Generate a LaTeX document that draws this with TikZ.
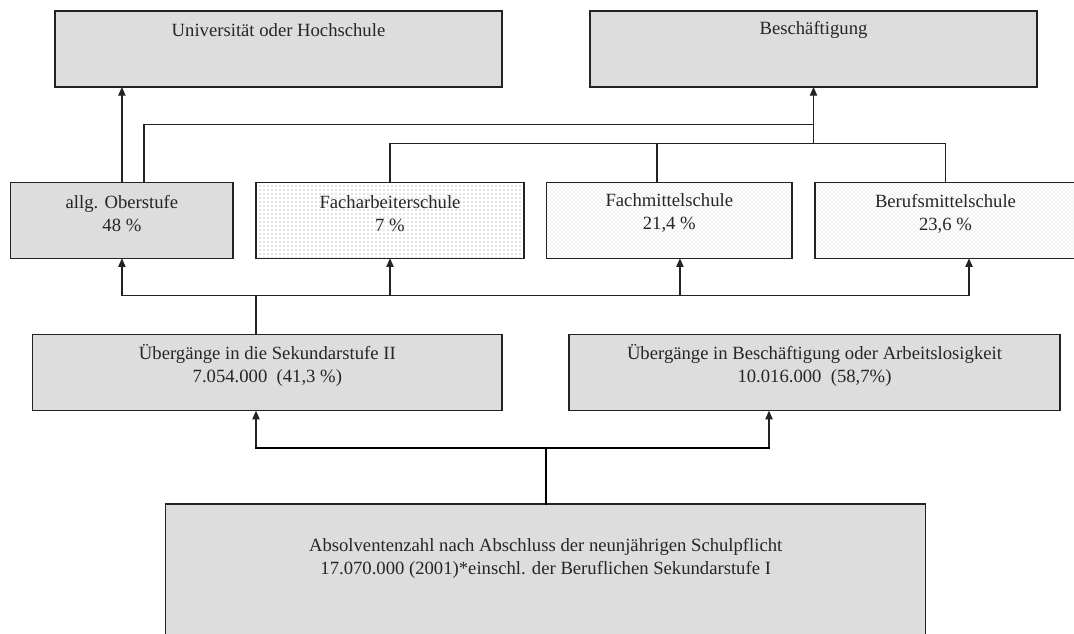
\documentclass[tikz,border=0pt]{standalone}
\usepackage{fontspec}
\setmainfont{Liberation Serif}
\usetikzlibrary{arrows.meta,patterns}
\definecolor{boxgray}{RGB}{221,221,221}
\definecolor{linecol}{RGB}{35,35,35}
\definecolor{dotcol}{RGB}{140,140,140}
\definecolor{hatchcol}{RGB}{200,200,200}
\begin{document}
\begin{tikzpicture}[x=0.75pt,y=-0.75pt,
  boxbase/.style={draw=linecol, line width=0.9pt, inner sep=0pt, outer sep=0pt},
  graybox/.style={boxbase, fill=boxgray},
  dotbox/.style={boxbase, pattern=dots, pattern color=dotcol, preaction={fill=white}},
  hatchbox/.style={boxbase, pattern=crosshatch dots, pattern color=hatchcol, preaction={fill=white}},
  lbl/.style={font=\fontsize{14pt}{17.25pt}\selectfont, align=center, inner sep=0pt, text=black!85},
  conn/.style={draw=linecol, line width=0.9pt},
  thickconn/.style={draw=black, line width=1.7pt, line cap=rect},
  arr/.style={conn, -{Triangle[length=6.5pt,width=5.5pt]}},
]
\path[use as bounding box, clip] (0,0) rectangle (1074,634);

% boxes
\node[graybox, minimum width={447*0.75pt}, minimum height={76*0.75pt}] (univ) at (278.5,49) {};
\node[graybox, minimum width={447*0.75pt}, minimum height={76*0.75pt}] (besch) at (813.5,49) {};
\node[graybox, minimum width={222.3*0.75pt}, minimum height={75.8*0.75pt}] (allg) at (121.9,220.4) {};
\node[dotbox, minimum width={268*0.75pt}, minimum height={75.8*0.75pt}] (fach) at (390,220.4) {};
\node[hatchbox, minimum width={245.3*0.75pt}, minimum height={75.8*0.75pt}] (fmit) at (669.3,220.4) {};
\node[hatchbox, minimum width={261*0.75pt}, minimum height={75.8*0.75pt}] (bmit) at (945.5,220.4) {};
\node[graybox, minimum width={469.3*0.75pt}, minimum height={76.2*0.75pt}] (sek) at (267.35,372.6) {};
\node[graybox, minimum width={491*0.75pt}, minimum height={76.2*0.75pt}] (ueb) at (814.5,372.6) {};
\node[graybox, minimum width={760*0.75pt}, minimum height={140*0.75pt}] (abs) at (545.7,574) {};

% texts
\node[lbl] (univT) at (278.5,30) {Universität oder Hochschule};
\node[lbl] (beschT) at (813.5,30) {Beschäftigung};
\node[lbl] (allgT) at (121.9,213.4) {allg. Oberstufe\\48 \%};
\node[lbl] (fachT) at (390,213.4) {Facharbeiterschule\\7 \%};
\node[lbl] (fmitT) at (669.3,213.4) {Fachmittelschule\\21,4 \%};
\node[lbl] (bmitT) at (945.5,213.4) {Berufsmittelschule\\23,6 \%};
\node[lbl] (sekT) at (267.35,365) {Übergänge in die Sekundarstufe II\\7.054.000~~(41,3 \%)};
\node[lbl] (uebT) at (814.5,365) {Übergänge in Beschäftigung oder Arbeitslosigkeit\\10.016.000~~(58,7\%)};
\node[lbl] (absT) at (545.7,558.5) {Absolventenzahl nach Abschluss der neunjährigen Schulpflicht\\17.070.000 (2001)*einschl. der Beruflichen Sekundarstufe I};

% upper connectors
\coordinate (joinA) at (813.5,124.3);
\coordinate (busTop) at (813.5,143.3);
\draw[arr] (allg.north) -- (allg.north |- univ.south);
\draw[conn] ([xshift=16.6pt]allg.north) |- (joinA);
\draw[conn] (fach.north) |- (busTop);
\draw[conn] (bmit.north) |- (busTop);
\draw[conn] ([xshift=-9.2pt]fmit.north) -- ([xshift=-9.2pt]fmit.north |- busTop);
\draw[arr] (busTop) -- (besch.south);

% middle connectors
\coordinate (busLow) at (256,295.7);
\coordinate (busLowR) at (969,295.7);
\draw[conn] (allg.south |- busLow) -- (busLowR);
\draw[conn] (busLow) -- (busLow |- sek.north);
\draw[arr] (allg.south |- busLow) -- (allg.south);
\draw[arr] (fach.south |- busLow) -- (fach.south);
\draw[arr] ([xshift=8pt]fmit.south |- busLow) -- ([xshift=8pt]fmit.south);
\draw[arr] (busLowR) -- (busLowR |- bmit.south);

% lower connectors
\coordinate (tL) at (256,447.7);
\coordinate (tR) at (769,447.7);
\draw[arr] (tL) -- (tL |- sek.south);
\draw[arr] (tR) -- (tR |- ueb.south);
\draw[thickconn] (tL) -- (tR);
\draw[thickconn] (abs.north) -- (abs.north |- tL);
\end{tikzpicture}
\end{document}
